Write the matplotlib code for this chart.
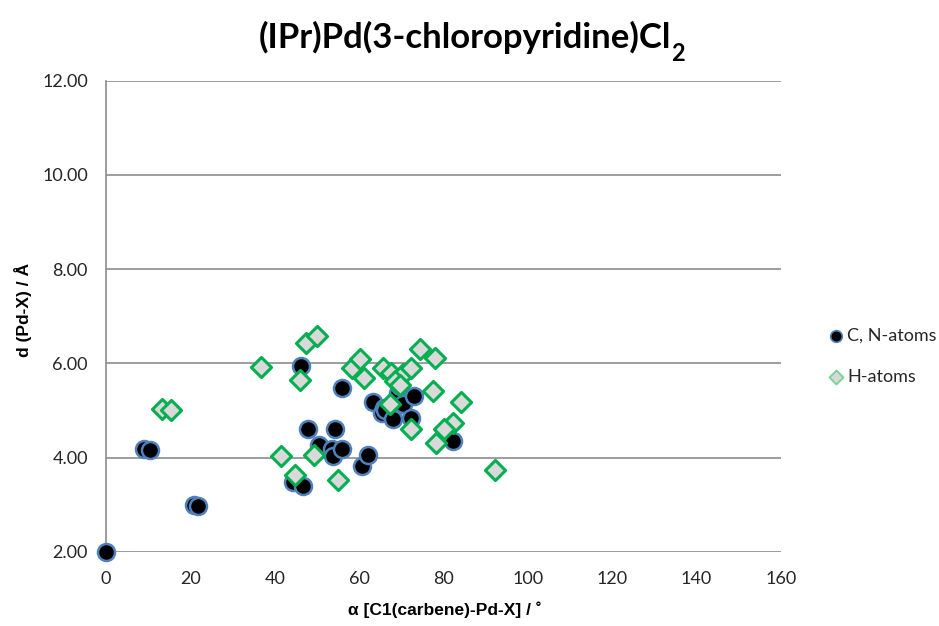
import numpy as np
import matplotlib.pyplot as plt

plt.rcParams['font.family'] = ['Lato', 'DejaVu Sans']

# C, N-atoms
cn_angle = [0.0, 8.9, 10.5, 20.8, 21.7, 46.2, 55.9, 47.8, 54.4, 50.6,
            53.5, 53.9, 55.9, 60.6, 62.0, 44.4, 46.7, 63.4, 65.8, 65.4,
            66.2, 68.0, 69.2, 70.5, 69.7, 72.9, 72.2, 82.2]
cn_dist = [2.00, 4.17, 4.15, 3.00, 2.98, 5.94, 5.48, 4.60, 4.60, 4.26,
           4.17, 4.03, 4.19, 3.83, 4.06, 3.47, 3.39, 5.18, 5.06, 4.95,
           5.00, 4.81, 5.36, 5.13, 5.52, 5.30, 4.84, 4.35]

# H-atoms
h_angle = [13.3, 15.3, 36.8, 47.5, 50.1, 45.9, 58.4, 60.2, 61.2, 65.6,
           41.5, 49.2, 44.9, 55.0, 74.4, 78.0, 67.5, 70.3, 72.2, 68.5,
           69.7, 77.4, 84.1, 67.3, 72.2, 82.3, 80.1, 78.2, 92.3]
h_dist = [5.02, 5.00, 5.93, 6.43, 6.57, 5.64, 5.91, 6.10, 5.68, 5.89,
          4.03, 4.06, 3.62, 3.53, 6.31, 6.12, 5.79, 5.77, 5.89, 5.62,
          5.55, 5.41, 5.18, 5.13, 4.61, 4.74, 4.60, 4.31, 3.73]

x_ticks = [0, 20, 40, 60, 80, 100, 120, 140, 160]
y_ticks = [2, 4, 6, 8, 10, 12]

fig = plt.figure(figsize=(9.39, 6.26), dpi=100)
ax = fig.add_axes([0.1129, 0.1187, 0.7188, 0.7523])

ax.scatter(cn_angle, cn_dist, s=150, c='black', edgecolors='#4F81BD',
           linewidths=1.8, zorder=3, clip_on=False)
ax.scatter(h_angle, h_dist, s=105, marker='D', c='#D9D9D9', edgecolors='#00B050',
           linewidths=2.2, zorder=4, clip_on=False)

ax.set_xlim(0, 160)
ax.set_ylim(2, 12)
ax.set_xticks(x_ticks)
ax.set_yticks(y_ticks)
ax.set_yticklabels(['%.2f' % v for v in y_ticks])
ax.tick_params(length=0, labelsize=13, colors='#262626')
ax.tick_params(axis='x', pad=14)
ax.tick_params(axis='y', pad=13)
ax.yaxis.grid(True, color='#8C8C8C', lw=1.2)
ax.set_axisbelow(True)
for side in ['top', 'right', 'bottom']:
    ax.spines[side].set_visible(False)
ax.spines['left'].set_color('#8C8C8C')
ax.spines['left'].set_linewidth(1.2)

lab_font = dict(family=['Liberation Sans', 'DejaVu Sans'], fontsize=12.5, fontweight='bold')
fig.text(0.024, 0.505, 'd (Pd-X) / Å', rotation=90, ha='center', va='center', **lab_font)
fig.text(0.474, 0.026, 'α [C1(carbene)-Pd-X] / ˚', ha='center', va='center', **lab_font)

# title with subscript
t = fig.text(0.495, 0.94, '(IPr)Pd(3-chloropyridine)Cl', ha='center', va='center',
             fontsize=25, fontweight='bold')
fig.canvas.draw()
bb = t.get_window_extent().transformed(fig.transFigure.inverted())
fig.text(bb.x1 + 0.0005, 0.915, '2', ha='left', va='center', fontsize=17, fontweight='bold')

# legend, drawn by hand with the same marker styles
fig.text(0.902, 0.464, 'C, N-atoms', ha='left', va='center', fontsize=13, color='#262626')
fig.text(0.902, 0.398, 'H-atoms', ha='left', va='center', fontsize=13, color='#262626')
leg_ax = fig.add_axes([0.88, 0.38, 0.02, 0.1])
leg_ax.set_xlim(0, 1)
leg_ax.set_ylim(0, 1)
leg_ax.axis('off')
leg_ax.scatter([0.5], [0.84], s=70, c='black', edgecolors='#4F81BD', linewidths=1.2)
leg_ax.scatter([0.5], [0.18], s=50, marker='D', c='#D9D9D9', edgecolors='#7CD39A',
               linewidths=1.4)

fig.savefig('out.png', dpi=100)
